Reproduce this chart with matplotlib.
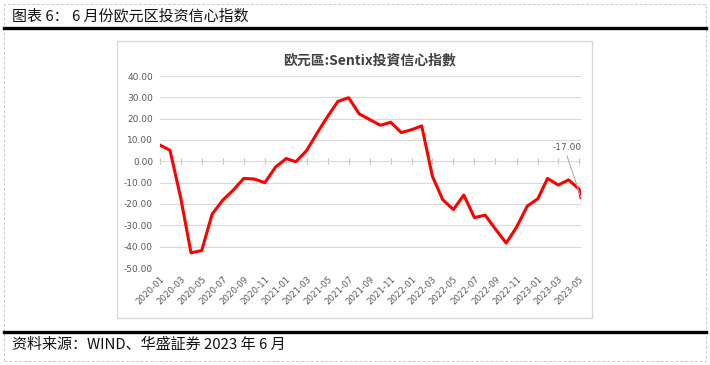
import matplotlib
matplotlib.use("Agg")
import matplotlib.pyplot as plt
import matplotlib.dates as mdates
from matplotlib.patches import Rectangle
from matplotlib.lines import Line2D
import pandas as pd

plt.rcParams['font.family'] = ['Noto Sans CJK SC', 'DejaVu Sans']
plt.rcParams['axes.unicode_minus'] = False

# ---- data ----
dates = list(pd.date_range("2020-01-31", "2023-05-31", freq="ME")) + [pd.Timestamp("2023-06-05")]
values = [7.6, 5.2, -17.1, -42.9, -41.8, -24.8, -18.2, -13.4, -8.0, -8.3, -10.0, -2.7,
          1.3, -0.2, 5.0, 13.1, 21.0, 28.1, 29.8, 22.2, 19.6, 16.9, 18.3, 13.5,
          14.9, 16.6, -7.0, -18.0, -22.6, -15.8, -26.4, -25.2, -31.8, -38.3, -30.9, -21.0,
          -17.5, -8.0, -11.1, -8.7, -13.1, -17.0]
yticks = [-50, -40, -30, -20, -10, 0, 10, 20, 30, 40]
tick_dates = dates[0:41:2]

fig_title = "图表 6： 6 月份欧元区投资信心指数"
chart_title = "欧元區:Sentix投資信心指數"
source = "资料来源：WIND、华盛証券 2023 年 6 月"
last_label = "-17.00"

W, H = 710, 365
fig = plt.figure(figsize=(W / 100, H / 100), dpi=100)

def fx(px):
    return px / W

def fy(py):
    return 1 - py / H

# outer dashed frame
fig.add_artist(Rectangle((fx(4), fy(361)), fx(702), 357 / H, transform=fig.transFigure,
                         fill=False, edgecolor='#c8c8c8', lw=0.7, linestyle=(0, (3, 2))))
# thick rules
fig.add_artist(Line2D([fx(4), fx(706)], [fy(28), fy(28)], transform=fig.transFigure,
                      color='black', lw=2.4))
fig.add_artist(Line2D([fx(4), fx(706)], [fy(332), fy(332)], transform=fig.transFigure,
                      color='black', lw=2.4))
fig.text(fx(12), fy(16), fig_title, fontsize=10.8, va='center', ha='left', color='#111111')
fig.text(fx(12), fy(345), source, fontsize=10.8, va='center', ha='left', color='#111111')

# inner chart frame
fig.add_artist(Rectangle((fx(117), fy(318)), fx(475), 277 / H, transform=fig.transFigure,
                         fill=False, edgecolor='#d9d9d9', lw=1.0))
fig.text(fx(370), fy(60), chart_title, fontsize=10, fontweight='bold', va='center',
         ha='center', color='#404040')

tick_font = ['DejaVu Sans']

ax = fig.add_axes([fx(160), fy(268), fx(421), 192 / H])
ax.plot(dates, values, color='#ff0000', lw=2.2, zorder=3, solid_joinstyle='round')
ax.set_xlim(dates[0], dates[-1])
ax.set_ylim(-50, 40)
ax.set_yticks(yticks)
ax.set_yticklabels([f"{v:.2f}" for v in yticks], family=tick_font)
ax.grid(axis='y', color='#d9d9d9', lw=0.8)
ax.set_axisbelow(True)
for s in ax.spines.values():
    s.set_visible(False)
ax.tick_params(axis='y', length=0, pad=5, labelsize=6.5, labelcolor='#595959')
ax.set_xticks(tick_dates)
ax.set_xticklabels([d.strftime('%Y-%m') for d in tick_dates], family=tick_font)
ax.tick_params(axis='x', length=0, pad=5, labelsize=6.2, labelcolor='#595959')
for lab in ax.get_xticklabels():
    lab.set_rotation(45)
    lab.set_ha('right')
    lab.set_rotation_mode('anchor')

# category axis line at zero with tick marks
sec = ax.secondary_xaxis(50 / 90)
sec.set_xticks([mdates.date2num(d) for d in tick_dates])
sec.set_xticklabels([])
sec.tick_params(axis='x', direction='inout', length=4.5, width=0.8, color='#bfbfbf')
sec.spines['bottom'].set_color('#d0d0d0')
sec.spines['bottom'].set_linewidth(0.8)
for k in ('top', 'left', 'right'):
    sec.spines[k].set_visible(False)

ax.annotate(last_label, xy=(dates[-1], values[-1]), xytext=(-10, 33),
            textcoords='offset points', fontsize=6.5, color='#595959', family=tick_font,
            ha='center', va='bottom',
            arrowprops=dict(arrowstyle='-', color='#a6a6a6', lw=0.7,
                            shrinkA=1, shrinkB=0, relpos=(0.45, 0)))

fig.savefig("out.png", dpi=100)
